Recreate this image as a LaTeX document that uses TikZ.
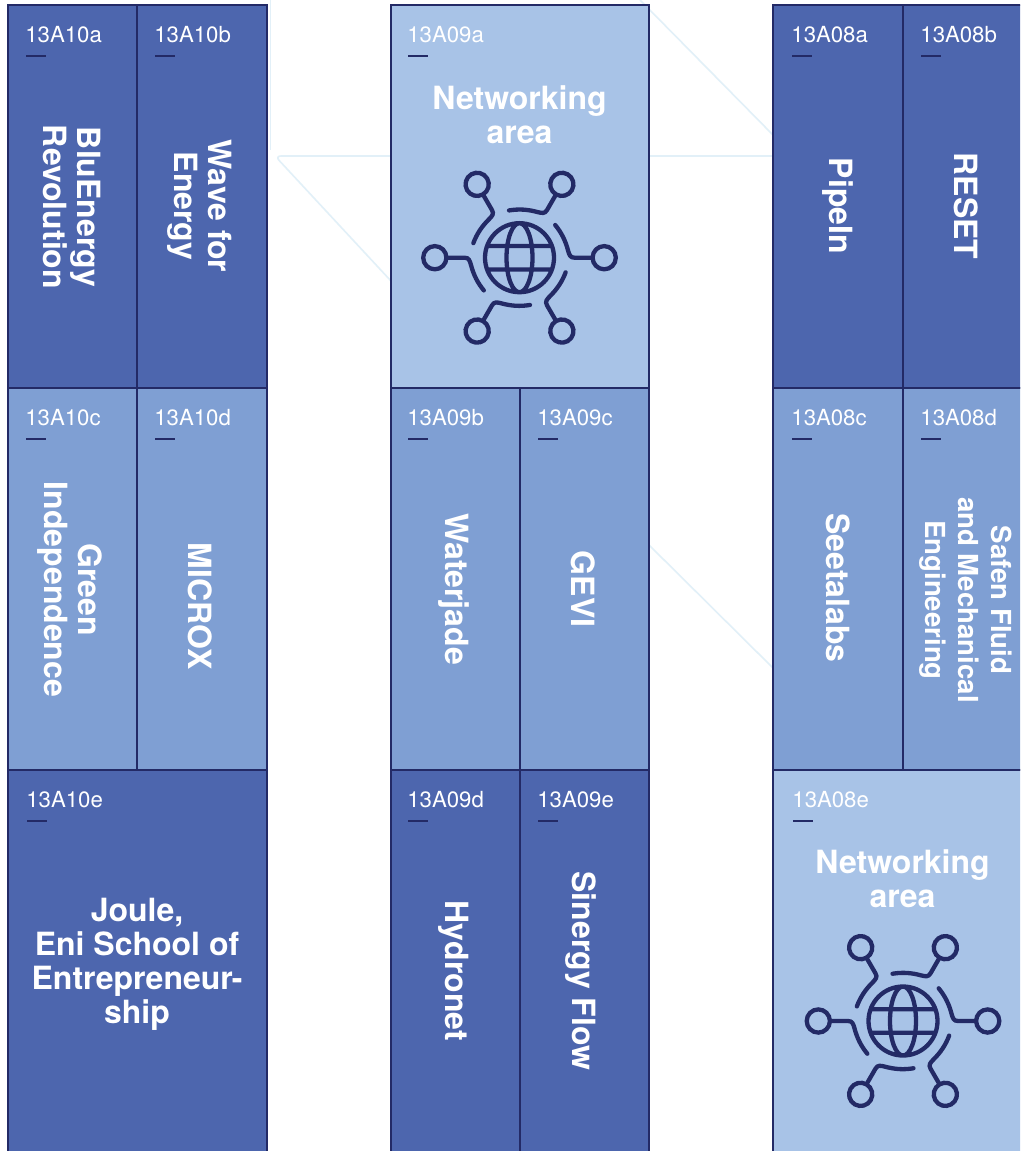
\documentclass[tikz,border=0pt]{standalone}
\usepackage{fontspec}
\setmainfont{TeX Gyre Heros}
\definecolor{cdark}{HTML}{4D66AE}
\definecolor{cmid}{HTML}{7F9FD3}
\definecolor{clight}{HTML}{A8C3E7}
\definecolor{cline}{HTML}{232A66}
\definecolor{cfaint}{HTML}{E2F0F8}
\tikzset{
  cellbox/.style={draw=cline,line width=2.7pt},
  darkbox/.style={cellbox,fill=cdark},
  midbox/.style={cellbox,fill=cmid},
  litebox/.style={cellbox,fill=clight},
  faintline/.style={draw=cfaint,line width=1.6pt,rounded corners=6pt},
  codetext/.style={text=white,anchor=base west,inner sep=0pt,font=\fontsize{22.2}{24}\selectfont},
  codedash/.style={draw=cline,line width=2.4pt},
  vname/.style={text=white,rotate=-90,align=center,inner sep=0pt,font=\fontsize{32}{34}\selectfont\bfseries},
  hname/.style={text=white,align=center,inner sep=0pt,font=\fontsize{32}{34}\selectfont\bfseries},
  neticon/.pic={
    \draw[cline,line width=4.3pt] (0,0) circle[radius=34.5pt]
      (0,0) ellipse[x radius=13pt,y radius=34.5pt]
      (-33,-11.7) -- (33,-11.7) (-33,11.7) -- (33,11.7);
    \foreach \a in {0,60,...,300}{
      \draw[cline,line width=4.3pt,line cap=round,rotate=\a]
        (84.7,0) circle[radius=11.6pt]
        (73.1,0) -- (55,0) .. controls (50.5,0) and (49.8,-3) .. (48.6,-7)
        .. controls (46,-17) and (42,-25) .. (35.7,-32.7);
    }
  }
}
\newcommand{\labelat}[3]{%
  \node[codetext] (l#1) at (#2-0.8,#3) {#1};
  \coordinate (d#1a) at (#2,#3+14);
  \coordinate (d#1b) at (#2+20,#3+14);
  \draw[codedash] (d#1a) -- (d#1b);
}
\begin{document}
\begin{tikzpicture}[x=1pt,y=-1pt]
\useasboundingbox (0,0) rectangle (1020,1151);
\clip (0,0) rectangle (1020,1151);
\fill[white] (0,0) rectangle (1020,1151);
% faint background lines
\draw[faintline] (270.5,0) -- (270.5,150);
\draw[faintline] (391,156) -- (275,156) -- (391,281);
\draw[faintline] (640,0) -- (773,135);
\draw[faintline] (649,156) -- (773,156);
\draw[faintline] (649,545) -- (773,668);
% left column
\draw[darkbox] (8,5) rectangle (137,388);
\draw[darkbox] (137,5) rectangle (267,388);
\draw[midbox] (8,388) rectangle (137,770);
\draw[midbox] (137,388) rectangle (267,770);
\draw[darkbox] (8,770) rectangle (267,1170);
% middle column
\draw[litebox] (391,5) rectangle (649,388);
\draw[midbox] (391,388) rectangle (520,770);
\draw[midbox] (520,388) rectangle (649,770);
\draw[darkbox] (391,770) rectangle (520,1170);
\draw[darkbox] (520,770) rectangle (649,1170);
% right column
\draw[darkbox] (773,5) rectangle (903,388);
\draw[darkbox] (903,5) rectangle (1040,388);
\draw[midbox] (773,388) rectangle (903,770);
\draw[midbox] (903,388) rectangle (1040,770);
\draw[litebox] (773,770) rectangle (1040,1170);
% codes
\labelat{13A10a}{26}{42}
\labelat{13A10b}{155}{42}
\labelat{13A10c}{26}{425}
\labelat{13A10d}{155}{425}
\labelat{13A10e}{27}{807}
\labelat{13A09a}{408}{42}
\labelat{13A09b}{408}{425}
\labelat{13A09c}{538}{425}
\labelat{13A09d}{408}{807}
\labelat{13A09e}{538}{807}
\labelat{13A08a}{792}{42}
\labelat{13A08b}{921}{42}
\labelat{13A08c}{792}{425}
\labelat{13A08d}{921}{425}
\labelat{13A08e}{793}{807}
% names
\node[vname] (n1) at (72,207) {BluEnergy\\Revolution};
\node[vname] (n2) at (199.5,206) {Wave for\\Energy};
\node[vname] (n3) at (70,589.5) {Green\\Independence};
\node[vname] (n4) at (200.5,606) {MICROX};
\node[hname] (n5) at (137,964.5) {Joule,\\Eni School of\\Entrepreneur-\\ship};
\node[hname] (n6) at (519.5,115) {Networking\\area};
\node[vname] (n7) at (454,589) {Waterjade};
\node[vname] (n8) at (583.5,589) {GEVI};
\node[vname] (n9) at (454,971) {Hydronet};
\node[vname] (n10) at (581,971) {Sinergy Flow};
\node[vname] (n11) at (838,206) {PipeIn};
\node[vname] (n12) at (966,206) {RESET};
\node[vname] (n13) at (838,588) {Seetalabs};
\node[vname,font=\fontsize{27.6}{33}\selectfont\bfseries] (n14) at (966,600) {Safen Fluid\\and Mechanical\\Engineering};
\node[hname] (n15) at (902.5,879) {Networking\\area};
% icons
\pic at (519.5,257.7) {neticon};
\pic at (903,1021) {neticon};
\end{tikzpicture}
\end{document}
